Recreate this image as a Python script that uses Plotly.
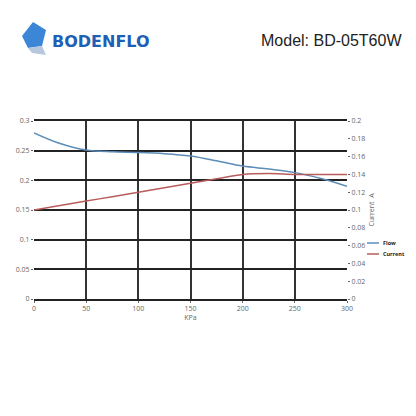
import plotly.graph_objects as go

kpa = [0, 25, 50, 75, 100, 125, 150, 175, 200, 225, 250, 275, 300]
flow = [0.28, 0.262, 0.251, 0.248, 0.247, 0.245, 0.241, 0.233, 0.224, 0.219, 0.213, 0.203, 0.19]
current = [0.10, 0.105, 0.11, 0.115, 0.12, 0.125, 0.13, 0.135, 0.14, 0.141, 0.14, 0.14, 0.14]
names = ["Flow", "Current"]
colors = ["#5b8db8", "#b85c5c"]

OFF = 8  # page body margin shifts everything by 8px
# plot area in target pixels
L, R, T, B = 34, 347, 121, 299


def px(x, y):
    # target pixel position -> paper coords
    return (x - L) / (R - L), (B - y) / (B - T)


fig = go.Figure()
fig.add_trace(go.Scatter(x=kpa, y=flow, name=names[0], mode="lines",
                         line=dict(color=colors[0], width=1.5, shape="spline")))
fig.add_trace(go.Scatter(x=kpa, y=current, name=names[1], mode="lines", yaxis="y2",
                         line=dict(color=colors[1], width=1.5, shape="spline")))

tickfont = dict(family="Open Sans", size=7, color="#666")
fig.update_layout(
    width=416, height=416,
    margin=dict(l=L - OFF, r=416 - R + OFF, t=T - OFF, b=416 - B + OFF, autoexpand=False),
    paper_bgcolor="white", plot_bgcolor="white", showlegend=False,
    xaxis=dict(range=[0, 300], dtick=50, showgrid=True, gridcolor="#333", gridwidth=1.5,
               showline=True, linecolor="#222", linewidth=2, mirror=True, zeroline=False,
               tickfont=tickfont, ticks="outside", ticklen=2, tickcolor="#666", automargin=False,
               title=dict(text="KPa", font=dict(family="Open Sans", size=7, color="#666"), standoff=2)),
    yaxis=dict(range=[0, 0.3], dtick=0.05, showgrid=True, gridcolor="#222", gridwidth=1.5,
               zeroline=False, tickfont=tickfont, ticks="outside", ticklen=2, tickcolor="#666", automargin=False),
    yaxis2=dict(range=[0, 0.2], dtick=0.02, overlaying="y", side="right", showgrid=False,
                zeroline=False, tickfont=tickfont, ticks="outside", ticklen=2, tickcolor="#666", automargin=False,
                title=dict(text="Current  A", font=dict(family="Open Sans", size=7, color="#666"), standoff=4)),
)

# legend drawn by hand (keys are short)
for i, (n, c) in enumerate(zip(names, colors)):
    yy = 243 + i * 11
    x0, y0 = px(367, yy)
    x1, _ = px(379, yy)
    fig.add_shape(type="line", xref="paper", yref="paper", x0=x0, x1=x1, y0=y0, y1=y0,
                  line=dict(color=c, width=1.5))
    tx, ty = px(381, yy)
    fig.add_annotation(text="<b>%s</b>" % n, x=tx, y=ty, xref="paper", yref="paper",
                       xanchor="left", yanchor="middle", showarrow=False,
                       font=dict(family="Open Sans", size=5.5, color="#222"))

# header: logo text and model label
hx, hy = px(50, 41)
fig.add_annotation(text="<b>BODENFLO</b>", x=hx, y=hy, xref="paper", yref="paper",
                   xanchor="left", yanchor="middle", showarrow=False,
                   font=dict(family="DejaVu Sans", size=16, color="#1f5fb5"))
mx, my = px(404, 40)
fig.add_annotation(text="Model: BD-05T60W", x=mx, y=my, xref="paper", yref="paper",
                   xanchor="right", yanchor="middle", showarrow=False,
                   font=dict(family="Liberation Sans", size=16, color="#222"))


def path(pts):
    return "M " + " L ".join("%.4f %.4f" % px(*p) for p in pts) + " Z"


fig.add_shape(type="path", xref="paper", yref="paper",
              path=path([(22, 36), (33, 22), (46, 30), (42, 46), (28, 48)]),
              fillcolor="#3b86d6", line=dict(width=0))
fig.add_shape(type="path", xref="paper", yref="paper",
              path=path([(28, 48), (42, 46), (46, 55), (32, 53)]),
              fillcolor="#b8c8dc", line=dict(width=0))

fig.write_html("out.html")
